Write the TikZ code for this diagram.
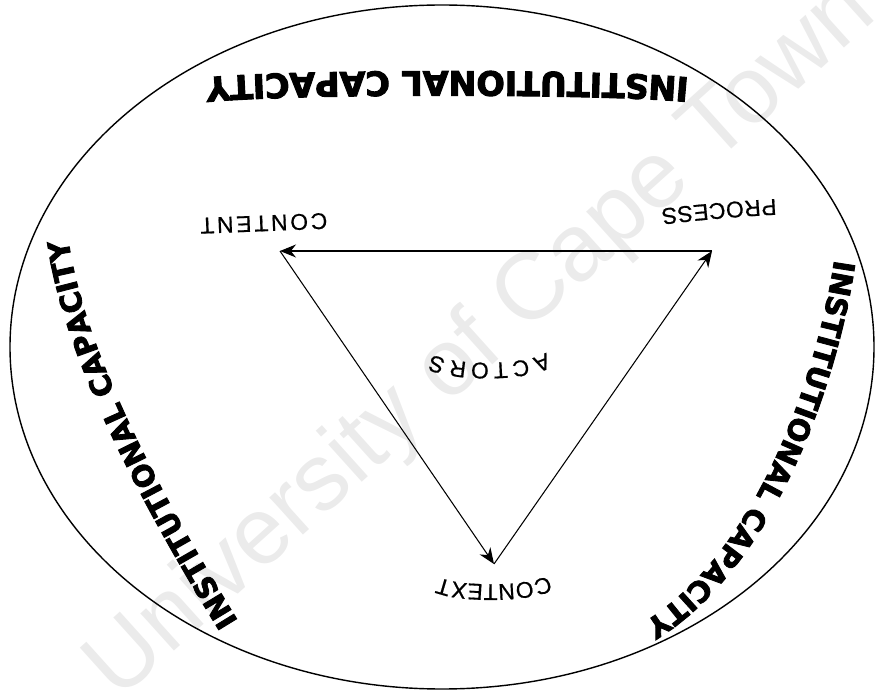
\documentclass[tikz,border=0pt]{standalone}
\usepackage{fontspec}
\newfontfamily\capfont{DejaVu Sans Bold}[FakeBold=3]
\newfontfamily\labfont{Liberation Sans}[FakeBold=0.6]
\newfontfamily\wmfont{Liberation Sans}
\usetikzlibrary{arrows.meta, decorations.text}

\newcommand{\capstyle}{\capfont\fontsize{19}{22}\selectfont}
\newcommand{\sidestyle}{\capfont\fontsize{16.5}{20}\selectfont}
\newcommand{\labstyle}{\labfont\fontsize{13}{15}\selectfont}

\begin{document}
\begin{tikzpicture}[
    x=0.02cm, y=0.02cm,
    >={Stealth[length=3.2mm, width=2.6mm]},
    arrow/.style={
        ->,
        line width=0.6pt
    },
    rim/.style={
        draw,
        line width=0.8pt
    },
    bigtext/.style={
        decorate,
        decoration={text along path, text align=center, text={#1}}
    },
    arclabel/.style={
        decorate,
        decoration={text along path, text align={fit to path}, text={|\labstyle|#1}}
    },
    watermark/.style={
        text=gray!16,
        font=\wmfont\fontsize{54}{60}\selectfont,
        inner sep=0pt
    }
]
    \useasboundingbox (0,0) rectangle (875,690);

    % Watermark
    \node[watermark, rotate=42, anchor=base west] (wm) at (118,-12) {University of Cape Town};

    % Outer ellipse
    \draw[rim] (442,343) ellipse [x radius=432, y radius=342];

    % Institutional capacity, top (upside down)
    \path[bigtext={|\capstyle|INSTITUTIONAL CAPACITY}]
        (692,612) .. controls (610,621) and (285,621) .. (203,612);

    % Institutional capacity, right side
    \path[bigtext={|\sidestyle|INSTITUTIONAL CAPACITY}]
        (836,442) .. controls (822,330) and (760,130) .. (634,62);

    % Institutional capacity, left side
    \path[bigtext={|\sidestyle|INSTITUTIONAL CAPACITY}]
        (243,61) .. controls (160,195) and (80,345) .. (67,460);

    % Corners of the triangle
    \coordinate (content) at (280,439);
    \coordinate (process) at (712,439);
    \coordinate (context) at (494,126);

    \draw[arrow] (process) -- (content);
    \draw[arrow] (content) -- (context);
    \draw[arrow] (context) -- (process);

    % Labels
    \path[arclabel={CONTENT}] (327,477) -- (200,472);
    \path[arclabel={PROCESS}] (776,491) .. controls (740,489) and (700,486) .. (661,481);
    \path[arclabel={CONTEXT}] (548,115) .. controls (530,103) and (458,103) .. (439,113);
    \path[arclabel={ACTORS}] (546,338) .. controls (527,324) and (452,324) .. (432,336);

\end{tikzpicture}
\end{document}
